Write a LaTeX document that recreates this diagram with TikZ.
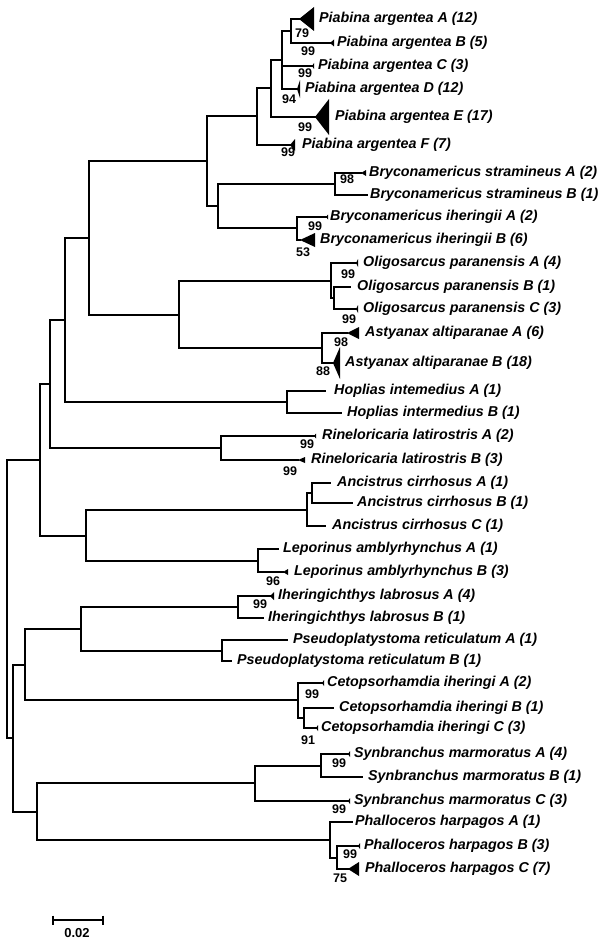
\documentclass[tikz,border=0pt]{standalone}
\usepackage{fontspec}
\setmainfont{Liberation Sans}
\newcommand\cladetri[3]{\fill (#1) -- ++(#2,-#3) -- ++(0,2*#3) -- cycle;}
\begin{document}
\begin{tikzpicture}[x=1pt,y=-1pt,
  br/.style={line width=1.8pt,line cap=rect},
  tax/.style={anchor=west,inner sep=0pt,font=\fontsize{14.3}{16}\selectfont\bfseries\itshape},
  bs/.style={inner sep=0pt,font=\fontsize{12.5}{14}\selectfont\bfseries}]
\useasboundingbox (0,0) rectangle (600,942);
% ---------- internal nodes
\coordinate (pAB) at (291,31);
\coordinate (pABCD) at (282,60);
\coordinate (pABCDE) at (271,88);
\coordinate (pPiab) at (257,116);
\coordinate (pBrS) at (335,184);
\coordinate (pBrI) at (297,228);
\coordinate (pBry) at (218,206);
\coordinate (pPB) at (207,161);
\coordinate (pOl2) at (334,298);
\coordinate (pOl) at (331,281);
\coordinate (pAst) at (322,348);
\coordinate (pOA) at (179,315);
\coordinate (pChar) at (89,238);
\coordinate (pHop) at (287,402);
\coordinate (pCH) at (65,320);
\coordinate (pRin) at (221,448);
\coordinate (pCHR) at (50,384);
\coordinate (pAnc2) at (312,493);
\coordinate (pAnc) at (307,510);
\coordinate (pLep) at (258,561);
\coordinate (pAL) at (86,536);
\coordinate (pUp) at (40,460);
\coordinate (pIh) at (238,607);
\coordinate (pPs) at (222,651);
\coordinate (pIP) at (81,629);
\coordinate (pCe2) at (304,718);
\coordinate (pCe) at (298,700);
\coordinate (pSil) at (25,665);
\coordinate (pSy2) at (321,766);
\coordinate (pSy) at (255,783);
\coordinate (pPh2) at (337,858);
\coordinate (pPh) at (330,840);
\coordinate (pSP) at (37,812);
\coordinate (pLow) at (13,738);
\coordinate (root) at (7,599);
% ---------- tips
\coordinate (PA) at (299,19);
\coordinate (PB) at (330,43);
\coordinate (PC) at (312,66);
\coordinate (PD) at (297,89);
\coordinate (PE) at (315,117);
\coordinate (PF) at (290,145);
\coordinate (BSA) at (361,173);
\coordinate (BSB) at (367,195);
\coordinate (BIA) at (326,217);
\coordinate (BIB) at (300,240);
\coordinate (OA) at (356,263);
\coordinate (OB) at (350,287);
\coordinate (OC) at (356,309);
\coordinate (AA) at (347,333);
\coordinate (AB) at (333,363);
\coordinate (HA) at (325,391);
\coordinate (HB) at (341,413);
\coordinate (RA) at (314,436);
\coordinate (RB) at (298,460);
\coordinate (AnA) at (330,483);
\coordinate (AnB) at (352,503);
\coordinate (AnC) at (325,526);
\coordinate (LA) at (278,549);
\coordinate (LB) at (283,572);
\coordinate (IA) at (270,596);
\coordinate (IB) at (263,618);
\coordinate (PsA) at (287,640);
\coordinate (PsB) at (231,661);
\coordinate (CA) at (322,683);
\coordinate (CB) at (333,708);
\coordinate (CC) at (316,728);
\coordinate (SA) at (348,754);
\coordinate (SB) at (362,777);
\coordinate (SC) at (348,801);
\coordinate (PhA) at (352,822);
\coordinate (PhB) at (358,846);
\coordinate (PhC) at (348,869);
% ---------- branches
\draw[br] (root) |- (pUp);
\draw[br] (root) |- (pLow);
\draw[br] (pUp) |- (pCHR);
\draw[br] (pUp) |- (pAL);
\draw[br] (pCHR) |- (pCH);
\draw[br] (pCHR) |- (pRin);
\draw[br] (pCH) |- (pChar);
\draw[br] (pCH) |- (pHop);
\draw[br] (pChar) |- (pPB);
\draw[br] (pChar) |- (pOA);
\draw[br] (pPB) |- (pPiab);
\draw[br] (pPB) |- (pBry);
\draw[br] (pPiab) |- (pABCDE);
\draw[br] (pPiab) |- (PF);
\draw[br] (pABCDE) |- (pABCD);
\draw[br] (pABCDE) |- (PE);
\draw[br] (pABCD) |- (pAB);
\draw[br] (pABCD) |- (PC);
\draw[br] (pABCD) |- (PD);
\draw[br] (pAB) |- (PA);
\draw[br] (pAB) |- (PB);
\draw[br] (pBry) |- (pBrS);
\draw[br] (pBry) |- (pBrI);
\draw[br] (pBrS) |- (BSA);
\draw[br] (pBrS) |- (BSB);
\draw[br] (pBrI) |- (BIA);
\draw[br] (pBrI) |- (BIB);
\draw[br] (pOA) |- (pOl);
\draw[br] (pOA) |- (pAst);
\draw[br] (pOl) |- (OA);
\draw[br] (pOl) |- (pOl2);
\draw[br] (pOl2) |- (OB);
\draw[br] (pOl2) |- (OC);
\draw[br] (pAst) |- (AA);
\draw[br] (pAst) |- (AB);
\draw[br] (pHop) |- (HA);
\draw[br] (pHop) |- (HB);
\draw[br] (pRin) |- (RA);
\draw[br] (pRin) |- (RB);
\draw[br] (pAL) |- (pAnc);
\draw[br] (pAL) |- (pLep);
\draw[br] (pAnc) |- (pAnc2);
\draw[br] (pAnc) |- (AnC);
\draw[br] (pAnc2) |- (AnA);
\draw[br] (pAnc2) |- (AnB);
\draw[br] (pLep) |- (LA);
\draw[br] (pLep) |- (LB);
\draw[br] (pLow) |- (pSil);
\draw[br] (pLow) |- (pSP);
\draw[br] (pSil) |- (pIP);
\draw[br] (pSil) |- (pCe);
\draw[br] (pIP) |- (pIh);
\draw[br] (pIP) |- (pPs);
\draw[br] (pIh) |- (IA);
\draw[br] (pIh) |- (IB);
\draw[br] (pPs) |- (PsA);
\draw[br] (pPs) |- (PsB);
\draw[br] (pCe) |- (CA);
\draw[br] (pCe) |- (pCe2);
\draw[br] (pCe2) |- (CB);
\draw[br] (pCe2) |- (CC);
\draw[br] (pSP) |- (pSy);
\draw[br] (pSP) |- (pPh);
\draw[br] (pSy) |- (pSy2);
\draw[br] (pSy) |- (SC);
\draw[br] (pSy2) |- (SA);
\draw[br] (pSy2) |- (SB);
\draw[br] (pPh) |- (PhA);
\draw[br] (pPh) |- (pPh2);
\draw[br] (pPh2) |- (PhB);
\draw[br] (pPh2) |- (PhC);
% ---------- collapsed clades
\cladetri{PA}{15}{12}
\cladetri{PB}{4}{3.5}
\cladetri{PC}{2}{3}
\cladetri{PD}{3}{9}
\cladetri{PE}{14}{18}
\cladetri{PF}{5}{6}
\cladetri{BSA}{5}{3}
\cladetri{BIA}{2}{2.5}
\cladetri{BIB}{15}{7}
\cladetri{OA}{2}{4}
\cladetri{OC}{2}{4}
\cladetri{AA}{12}{6}
\cladetri{AB}{7}{16}
\cladetri{RA}{2}{2.5}
\cladetri{RB}{7}{3}
\cladetri{LB}{5}{3}
\cladetri{IA}{4}{4}
\cladetri{CA}{2}{3}
\cladetri{CC}{2}{3}
\cladetri{SA}{2}{3}
\cladetri{SC}{2}{3}
\cladetri{PhB}{2}{3}
\cladetri{PhC}{11}{7}
% ---------- taxon labels
\node[tax] (lPA) at (319,19) {Piabina argentea A (12)};
\node[tax] (lPB) at (337,43) {Piabina argentea B (5)};
\node[tax] (lPC) at (318,66) {Piabina argentea C (3)};
\node[tax] (lPD) at (305,89) {Piabina argentea D (12)};
\node[tax] (lPE) at (335,117) {Piabina argentea E (17)};
\node[tax] (lPF) at (302,145) {Piabina argentea F (7)};
\node[tax] (lBSA) at (369,173) {Bryconamericus stramineus A (2)};
\node[tax] (lBSB) at (370,195) {Bryconamericus stramineus B (1)};
\node[tax] (lBIA) at (330,217) {Bryconamericus iheringii A (2)};
\node[tax] (lBIB) at (320,240) {Bryconamericus iheringii B (6)};
\node[tax] (lOA) at (363,263) {Oligosarcus paranensis A (4)};
\node[tax] (lOB) at (357,287) {Oligosarcus paranensis B (1)};
\node[tax] (lOC) at (363,309) {Oligosarcus paranensis C (3)};
\node[tax] (lAA) at (365,333) {Astyanax altiparanae A (6)};
\node[tax] (lAB) at (345,363) {Astyanax altiparanae B (18)};
\node[tax] (lHA) at (334,391) {Hoplias intemedius A (1)};
\node[tax] (lHB) at (347,413) {Hoplias intermedius B (1)};
\node[tax] (lRA) at (322,436) {Rineloricaria latirostris A (2)};
\node[tax] (lRB) at (311,460) {Rineloricaria latirostris B (3)};
\node[tax] (lAnA) at (337,483) {Ancistrus cirrhosus A (1)};
\node[tax] (lAnB) at (357,503) {Ancistrus cirrhosus B (1)};
\node[tax] (lAnC) at (332,526) {Ancistrus cirrhosus C (1)};
\node[tax] (lLA) at (283,549) {Leporinus amblyrhynchus A (1)};
\node[tax] (lLB) at (294,572) {Leporinus amblyrhynchus B (3)};
\node[tax] (lIA) at (278,596) {Iheringichthys labrosus A (4)};
\node[tax] (lIB) at (268,618) {Iheringichthys labrosus B (1)};
\node[tax] (lPsA) at (293,640) {Pseudoplatystoma reticulatum A (1)};
\node[tax] (lPsB) at (237,661) {Pseudoplatystoma reticulatum B (1)};
\node[tax] (lCA) at (327,683) {Cetopsorhamdia iheringi A (2)};
\node[tax] (lCB) at (339,708) {Cetopsorhamdia iheringi B (1)};
\node[tax] (lCC) at (321,728) {Cetopsorhamdia iheringi C (3)};
\node[tax] (lSA) at (354,754) {Synbranchus marmoratus A (4)};
\node[tax] (lSB) at (368,777) {Synbranchus marmoratus B (1)};
\node[tax] (lSC) at (354,801) {Synbranchus marmoratus C (3)};
\node[tax] (lPhA) at (355,822) {Phalloceros harpagos A (1)};
\node[tax] (lPhB) at (364,846) {Phalloceros harpagos B (3)};
\node[tax] (lPhC) at (365,869) {Phalloceros harpagos C (7)};
% ---------- bootstrap values
\node[bs] (b1) at (302,33) {79};
\node[bs] (b2) at (308,51) {99};
\node[bs] (b3) at (305,73) {99};
\node[bs] (b4) at (289,99) {94};
\node[bs] (b5) at (305,127) {99};
\node[bs] (b6) at (288,152) {99};
\node[bs] (b7) at (347,179) {98};
\node[bs] (b8) at (315,226) {99};
\node[bs] (b9) at (303,252) {53};
\node[bs] (b10) at (348,274) {99};
\node[bs] (b11) at (349,319) {99};
\node[bs] (b12) at (341,342) {98};
\node[bs] (b13) at (323,371) {88};
\node[bs] (b14) at (307,444) {99};
\node[bs] (b15) at (290,471) {99};
\node[bs] (b16) at (273,581) {96};
\node[bs] (b17) at (260,604) {99};
\node[bs] (b18) at (312,694) {99};
\node[bs] (b19) at (308,740) {91};
\node[bs] (b20) at (339,763) {99};
\node[bs] (b21) at (339,809) {99};
\node[bs] (b22) at (350,854) {99};
\node[bs] (b23) at (340,878) {75};
% ---------- scale bar
\coordinate (s1) at (53,920);
\coordinate (s2) at (103,920);
\draw[br] (s1) -- (s2);
\draw[line width=1.8pt] (s1) ++(0,-4.5) -- ++(0,9);
\draw[line width=1.8pt] (s2) ++(0,-4.5) -- ++(0,9);
\node[bs,font=\fontsize{13}{15}\selectfont\bfseries] (sl) at (77,933) {0.02};
\end{tikzpicture}
\end{document}
